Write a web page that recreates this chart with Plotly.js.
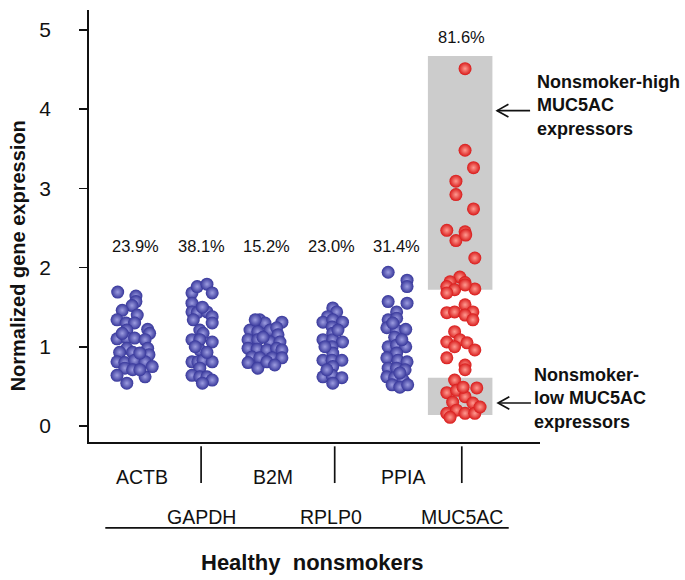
<!DOCTYPE html>
<html>
<head>
<meta charset="utf-8">
<script src="https://cdn.plot.ly/plotly-3.0.1.min.js"></script>
<style>html,body{margin:0;padding:0;background:#fff;}#chart{width:685px;height:580px;}</style>
</head>
<body>
<div id="chart"></div>
<script>
// Gene categories (x positions 1..6)
const genes = ['ACTB','GAPDH','B2M','RPLP0','PPIA','MUC5AC'];
const cvLabels = ['23.9%','38.1%','15.2%','23.0%','31.4%','81.6%'];
const cvLabelY = [2.27, 2.27, 2.27, 2.27, 2.27, 4.91];

// Normalized expression values and beeswarm jitter
const actbY = [1.69,1.64,1.57,1.52,1.46,1.40,1.34,1.30,1.30,1.21,1.22,1.17,1.10,1.11,1.11,1.09,0.98,0.98,0.93,0.93,0.90,0.81,0.80,0.83,0.81,0.75,0.73,0.71,0.64,0.62,0.54,0.71,1.17,0.92];
const actbJit = [-0.28,0,0,-0.06,-0.21,0.02,-0.29,-0.15,-0.02,-0.14,0.18,0.21,-0.29,-0.14,-0.02,0.14,-0.14,0.18,-0.25,-0.05,0.20,-0.29,-0.17,-0.02,0.14,0.25,-0.17,-0.05,-0.29,0.14,-0.14,0.06,-0.21,0.06];

const gapdhY = [1.68,1.76,1.79,1.68,1.55,1.44,1.43,1.44,1.38,1.34,1.30,1.21,1.17,1.09,1.09,1.06,0.96,0.81,0.81,0.83,0.81,0.73,0.64,0.62,0.62,0.58,0.54,1.00,0.93,1.50];
const gapdhJit = [-0.14,-0.06,0.09,0.17,-0.14,-0.14,-0.06,0.09,0.17,-0.12,0.17,-0.02,0.03,-0.14,-0.02,0.17,-0.02,-0.14,-0.05,0.03,0.17,-0.02,-0.14,-0.02,0.09,0.17,0.02,-0.09,0.09,0.02];

const b2mY = [1.34,1.30,1.31,1.21,1.19,1.21,1.24,1.15,1.09,1.09,1.06,1.06,0.98,0.97,0.96,0.98,0.96,0.87,0.86,0.86,0.86,0.80,0.73,0.81,0.77,1.34,1.12];
const b2mJit = [-0.10,-0.02,0.24,-0.25,-0.13,0.06,0.16,0.18,-0.28,-0.13,0.06,0.21,-0.28,-0.14,0.01,0.16,0.24,-0.22,-0.10,0.09,0.24,-0.28,-0.13,0.01,0.13,-0.17,-0.05];

const rplp0Y = [1.49,1.44,1.38,1.31,1.34,1.31,1.25,1.17,1.09,1.09,1.06,1.00,0.92,0.83,0.83,0.83,0.75,0.62,0.64,0.61,0.54,0.71,1.21,1.00];
const rplp0Jit = [0.02,0.08,-0.06,-0.13,0.02,0.17,0.01,0.02,-0.13,0.02,0.17,0.01,0.02,-0.13,0.01,0.16,0.02,-0.13,0.01,0.16,0.02,-0.07,0.10,-0.10];

const ppiaY = [1.94,1.84,1.76,1.57,1.55,1.44,1.34,1.36,1.24,1.21,1.22,1.12,1.00,1.02,1.00,0.92,0.86,0.83,0.81,0.73,0.73,0.71,0.62,0.61,0.58,0.52,0.49,0.52,1.30,1.09,0.67];
const ppiaJit = [-0.13,0.16,0.16,-0.13,0.16,0,-0.13,0,-0.15,0,0.14,-0.03,-0.13,0,0.14,0,-0.15,0.02,0.16,-0.13,0,0.13,-0.15,-0.03,0.10,-0.07,0.05,0.17,-0.06,0.08,0.05];

const muc5acY = [4.51,3.48,3.26,3.09,2.92,2.74,2.47,2.45,2.34,2.41,2.12,1.88,1.82,1.81,1.76,1.73,1.72,1.68,1.78,1.43,1.44,1.53,1.44,1.40,1.34,1.06,1.19,1.09,1.00,1.05,0.96,0.86,0.77,0.71,0.58,0.42,0.45,0.48,0.30,0.37,0.29,0.16,0.20,0.16,0.16,0.24,0.49,0.11];
const muc5acJit = [0.05,0.05,0.18,-0.09,-0.09,0.18,-0.23,0.05,-0.09,0.06,0.20,-0.03,-0.18,0.05,-0.23,0.20,-0.11,-0.23,0.05,-0.23,-0.11,0.05,0.17,0.05,0.17,-0.23,-0.11,-0.03,-0.11,0.08,0.20,-0.23,0.05,0.05,-0.11,-0.23,-0.08,0.23,-0.14,0.05,0.17,-0.23,-0.08,0.05,0.20,0.28,0.02,-0.18];

// Shaded groups for MUC5AC (high / low expressors)
const highBand = [1.72, 4.67];
const lowBand = [0.14, 0.61];

const groups = [
  {y: actbY, j: actbJit, pos: 1, red: false},
  {y: gapdhY, j: gapdhJit, pos: 2, red: false},
  {y: b2mY, j: b2mJit, pos: 3, red: false},
  {y: rplp0Y, j: rplp0Jit, pos: 4, red: false},
  {y: ppiaY, j: ppiaJit, pos: 5, red: false},
  {y: muc5acY, j: muc5acJit, pos: 6, red: true}
];

const traces = groups.map(g => ({
  type: 'scatter', mode: 'markers',
  x: g.j.map(d => g.pos + d), y: g.y,
  hoverinfo: 'y',
  marker: {
    size: 13,
    color: g.red ? '#d81a1a' : '#36369a',
    gradient: {type: 'radial', color: g.red ? '#ff9a90' : '#9d9de0'},
    line: {width: 0}
  },
  showlegend: false
}));

const font = "Arial, 'Liberation Sans', sans-serif";
const annotations = [];
genes.forEach((g, i) => {
  annotations.push({x: i + 1, y: cvLabelY[i], xref: 'x', yref: 'y', text: cvLabels[i], showarrow: false,
    font: {size: 16.5, color: '#111', family: font}, yanchor: 'middle'});
  annotations.push({x: i + 1 + (i % 2 === 0 ? 0.1 : 0), y: i % 2 === 0 ? -0.081 : -0.174, xref: 'x', yref: 'paper', text: g, showarrow: false,
    font: {size: 19.5, color: '#111', family: font}, yanchor: 'middle'});
});
annotations.push({x: 3.71, y: -0.278, xref: 'x', yref: 'paper', text: '<b>Healthy  nonsmokers</b>', showarrow: false,
  font: {size: 22, color: '#111', family: font}, yanchor: 'middle'});
annotations.push({x: -0.158, y: 2.15, xref: 'paper', yref: 'y', text: '<b>Normalized gene expression</b>', showarrow: false,
  textangle: -90, font: {size: 20, color: '#111', family: font}, xanchor: 'center', yanchor: 'middle'});
annotations.push({x: 0.989, y: 4.05, xref: 'paper', yref: 'y', xanchor: 'left', align: 'left',
  text: '<b>Nonsmoker-high<br>MUC5AC<br>expressors</b>', showarrow: false,
  font: {size: 18, color: '#111', family: font}, yanchor: 'middle'});
annotations.push({x: 0.982, y: 0.35, xref: 'paper', yref: 'y', xanchor: 'left', align: 'left',
  text: '<b>Nonsmoker-<br>low MUC5AC<br>expressors</b>', showarrow: false,
  font: {size: 18, color: '#111', family: font}, yanchor: 'middle'});

const lineStyle = {color: '#111', width: 1.7};
const shapes = [
  {type: 'rect', xref: 'x', yref: 'y', x0: 5.48, x1: 6.47, y0: highBand[0], y1: highBand[1], fillcolor: '#cccccc', line: {width: 0}, layer: 'below'},
  {type: 'rect', xref: 'x', yref: 'y', x0: 5.48, x1: 6.47, y0: lowBand[0], y1: lowBand[1], fillcolor: '#cccccc', line: {width: 0}, layer: 'below'},
  {type: 'line', xref: 'x', yref: 'paper', x0: 2, x1: 2, y0: -0.01, y1: -0.095, line: lineStyle},
  {type: 'line', xref: 'x', yref: 'paper', x0: 4.05, x1: 4.05, y0: -0.01, y1: -0.095, line: lineStyle},
  {type: 'line', xref: 'x', yref: 'paper', x0: 6, x1: 6, y0: -0.01, y1: -0.095, line: lineStyle},
  {type: 'line', xref: 'x', yref: 'paper', x0: 0.53, x1: 6.72, y0: -0.199, y1: -0.199, line: lineStyle},
  // arrows
  {type: 'line', xref: 'paper', yref: 'y', x0: 0.905, x1: 0.978, y0: 3.98, y1: 3.98, line: lineStyle},
  {type: 'path', xref: 'paper', yref: 'y', path: 'M 0.93,4.06 L 0.905,3.98 L 0.93,3.90', line: lineStyle},
  {type: 'line', xref: 'paper', yref: 'y', x0: 0.907, x1: 0.98, y0: 0.29, y1: 0.29, line: lineStyle},
  {type: 'path', xref: 'paper', yref: 'y', path: 'M 0.932,0.37 L 0.907,0.29 L 0.932,0.21', line: lineStyle}
];

const layout = {
  width: 685, height: 580,
  margin: {l: 89, r: 145, t: 10, b: 138},
  paper_bgcolor: '#fff', plot_bgcolor: '#fff',
  font: {family: font, color: '#111'},
  xaxis: {range: [0.28, 7.2], showgrid: false, zeroline: false, showticklabels: false, ticks: '',
    showline: true, linecolor: '#111', linewidth: 1.8, fixedrange: true},
  yaxis: {range: [-0.202, 5.25], showgrid: false, zeroline: false, tickvals: [0,1,2,3,4,5],
    ticks: 'outside', ticklen: 8, tickwidth: 1.5, tickcolor: '#111', ticklabelstandoff: 24,
    tickfont: {size: 21, family: font, color: '#111'},
    showline: true, linecolor: '#111', linewidth: 1.8,
    fixedrange: true},
  shapes: shapes,
  annotations: annotations
};

Plotly.newPlot('chart', traces, layout, {displayModeBar: false, staticPlot: true});
</script>
</body>
</html>
